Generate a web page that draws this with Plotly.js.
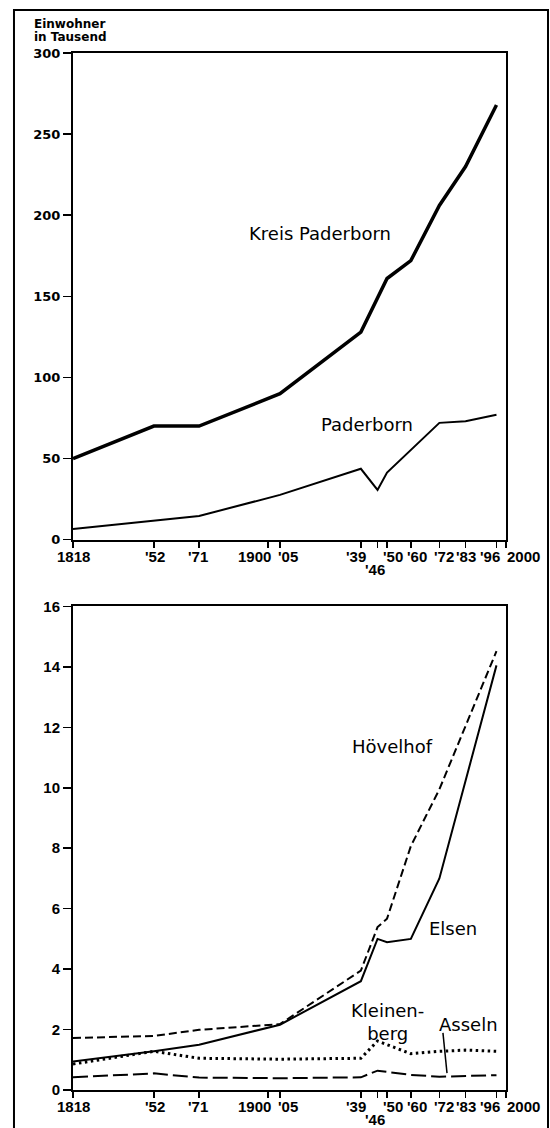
<!DOCTYPE html>
<html>
<head>
<meta charset="utf-8">
<script src="https://cdn.plot.ly/plotly-3.0.1.min.js"></script>
<style>html,body{margin:0;padding:0;background:#fff;}#chart{width:550px;height:1128px;}</style>
</head>
<body>
<div id="chart"></div>
<script>
// ---- data ----
const years = [1818, 1852, 1871, 1905, 1939, 1946, 1950, 1960, 1972, 1983, 1996];
const kreisPaderborn = [50, 70, 70, 90, 128, null, 161, 172, 206, 230, 268];
const paderborn      = [6.5, 11.5, 14.6, 27.6, 43.7, 30.7, 41.4, null, 72, 73, 77];
const hoevelhof      = [1.72, 1.79, 1.99, 2.18, 3.95, 5.39, 5.67, 8.07, 9.95, null, 14.52];
const elsen          = [0.94, 1.28, 1.5, 2.16, 3.6, 5.0, 4.89, 5.0, 7.0, null, 14.05];
const kleinenberg    = [0.86, 1.28, 1.05, 1.02, 1.05, 1.62, null, 1.2, 1.28, 1.32, 1.28];
const asseln         = [0.42, 0.55, 0.41, 0.39, 0.42, 0.64, null, 0.5, 0.44, null, 0.49];

const tickYears = [1818, 1852, 1871, 1900, 1905, 1939, 1946, 1950, 1960, 1972, 1983, 1996, 2000];
const tickLabels = ["1818", "'52", "'71", "1900", "'05", "'39", "'46", "'50", "'60", "'72", "'83", "'96", "2000"];
const topTicks = [0, 50, 100, 150, 200, 250, 300];
const bottomTicks = [0, 2, 4, 6, 8, 10, 12, 14, 16];

// ---- styling / layout ----
const labelFont = {family: 'DejaVu Sans', size: 18, color: '#000'};
const tickFontX = {family: 'Liberation Sans', size: 15, color: '#000', weight: 'bold'};

function line(y, xa, ya, width, dash) {
  return {x: years, y: y, xaxis: xa, yaxis: ya, mode: 'lines', connectgaps: true,
          line: {color: '#000', width: width, dash: dash || 'solid'}, hoverinfo: 'skip', showlegend: false};
}

const traces = [
  line(kreisPaderborn, 'x', 'y', 3.5),
  line(paderborn, 'x', 'y', 2),
  line(hoevelhof, 'x2', 'y2', 2, '8px,4px'),
  line(elsen, 'x2', 'y2', 2),
  line(kleinenberg, 'x2', 'y2', 3, '2.5px,3.5px'),
  line(asseln, 'x2', 'y2', 2, '15px,5px')
];

const xaxisBase = {
  range: [1818, 2000], showgrid: false, zeroline: false, showline: true, linewidth: 2, linecolor: '#000',
  mirror: true, ticks: 'outside', ticklen: 6, tickwidth: 1.5, tickcolor: '#000',
  tickmode: 'array', tickvals: tickYears, ticktext: tickLabels, showticklabels: false, fixedrange: true
};
const yaxisBase = {
  showgrid: false, zeroline: false, showline: true, linewidth: 2, linecolor: '#000', mirror: true,
  ticks: 'outside', ticklen: 8, tickwidth: 1.5, tickcolor: '#000', tickmode: 'array', fixedrange: true
};

const labelNudge = [0, 1, -1, -14, 8, -5, -3, 6, 6, 5, 0, -6, 17];
const annotations = [];
['y', 'y2'].forEach(function (ya) {
  const xa = ya === 'y' ? 'x' : 'x2';
  tickYears.forEach(function (yr, i) {
    const second = tickLabels[i] === "'46";
    annotations.push({x: yr, y: 0, xref: xa, yref: ya, text: tickLabels[i], showarrow: false,
      xanchor: 'center', yanchor: 'top', xshift: labelNudge[i], yshift: second ? -19 : -6, font: tickFontX});
  });
});

function txt(x, y, xa, ya, text) {
  return {x: x, y: y, xref: xa, yref: ya, text: text, showarrow: false, xanchor: 'center', yanchor: 'middle', font: labelFont};
}
annotations.push(txt(1922.0, 189, 'x', 'y', 'Kreis Paderborn'));
annotations.push(txt(1941.6, 70.8, 'x', 'y', 'Paderborn'));
annotations.push(txt(1952.1, 11.38, 'x2', 'y2', 'Hövelhof'));
annotations.push(txt(1977.9, 5.36, 'x2', 'y2', 'Elsen'));
annotations.push(txt(1950.0, 2.25, 'x2', 'y2', 'Kleinen-<br>berg'));
annotations.push(txt(1984.2, 2.16, 'x2', 'y2', 'Asseln'));

const titleFont = {family: 'DejaVu Sans', size: 12, color: '#000', weight: 'bold'};
annotations.push({x: -0.0947, y: (1090 - 24) / 1037, xref: 'paper', yref: 'paper', text: 'Einwohner',
  showarrow: false, xanchor: 'left', yanchor: 'middle', font: titleFont});
annotations.push({x: -0.0947, y: (1090 - 37) / 1037, xref: 'paper', yref: 'paper', text: 'in Tausend',
  showarrow: false, xanchor: 'left', yanchor: 'middle', font: titleFont});

const layout = {
  width: 550, height: 1128,
  margin: {l: 73, r: 44, t: 53, b: 38, pad: 0},
  paper_bgcolor: '#fff', plot_bgcolor: '#fff',
  showlegend: false,
  xaxis: Object.assign({}, xaxisBase, {domain: [0, 1], anchor: 'y'}),
  yaxis: Object.assign({}, yaxisBase, {domain: [0.5307, 1], anchor: 'x', range: [0, 300], tickvals: topTicks,
    tickfont: {family: 'DejaVu Sans', size: 13, color: '#000', weight: 'bold'}}),
  xaxis2: Object.assign({}, xaxisBase, {domain: [0, 1], anchor: 'y2'}),
  yaxis2: Object.assign({}, yaxisBase, {domain: [0, 0.4663], anchor: 'x2', range: [0, 16], tickvals: bottomTicks,
    tickfont: {family: 'Liberation Sans', size: 15, color: '#000', weight: 'bold'}}),
  annotations: annotations,
  shapes: [
    {type: 'rect', xref: 'paper', yref: 'paper', x0: -0.1363, x1: 1.097, y0: -0.06, y1: 1.0415,
      line: {color: '#000', width: 2}, fillcolor: 'rgba(0,0,0,0)', layer: 'below'},
    {type: 'line', xref: 'x2', yref: 'y2', x0: 1973.5, y0: 1.89, x1: 1975.2, y1: 0.56,
      line: {color: '#000', width: 1.5}}
  ]
};

Plotly.newPlot('chart', traces, layout, {staticPlot: true, displayModeBar: false});
</script>
</body>
</html>
